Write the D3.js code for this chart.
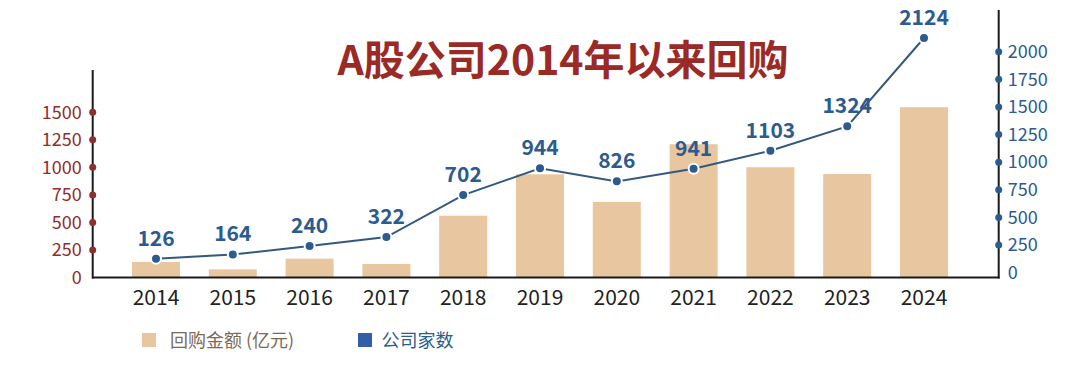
<!DOCTYPE html>
<html><head><meta charset="utf-8">
<script src="https://cdn.jsdelivr.net/npm/d3@7"></script>
<style>
html,body{margin:0;padding:0;background:#fff;}
svg{display:block;font-family:"Noto Sans CJK SC","Noto Sans",sans-serif;}
</style></head>
<body><svg id="c" width="1080" height="365"></svg>
<script>
const years = ["2014","2015","2016","2017","2018","2019","2020","2021","2022","2023","2024"];
const amounts = [141, 74, 171, 123, 561, 937, 686, 1210, 1001, 940, 1546];
const companies = [126, 164, 240, 322, 702, 944, 826, 941, 1103, 1324, 2124];
const leftTicks = [0, 250, 500, 750, 1000, 1250, 1500];
const rightTicks = [0, 250, 500, 750, 1000, 1250, 1500, 1750, 2000];
const titleText = "A股公司2014年以来回购";
const legendLabels = ["回购金额 (亿元)", "公司家数"];

const C = {bar:"#e8c69f", red:"#8f2f2b", title:"#9a2a26", blue:"#2c5b8f", line:"#34597f", axis:"#1a1a1a", legendBlue:"#2f5fa4", legendText:"#7d6a55"};
const FF = "'Noto Sans CJK SC','Noto Sans',sans-serif";

const svg = d3.select("#c");
const x = d3.scaleBand().domain(years).range([117.6, 962.4]).paddingInner(0.375).paddingOuter(0.1875);
const yL = d3.scaleLinear().domain([0, 1500]).range([277.5, 112.3]);
const yR = d3.scaleLinear().domain([0, 2000]).range([272.6, 51.7]);

// title
svg.append("text").attr("x", 563).attr("y", 75).attr("text-anchor","middle")
  .attr("font-size", 41).attr("font-weight", 700).attr("fill", C.title)
  .text(titleText);

// bars
svg.append("g").selectAll("rect").data(years).join("rect")
  .attr("x", d => x(d)).attr("width", x.bandwidth())
  .attr("y", (d,i) => yL(amounts[i])).attr("height", (d,i) => yL(0) - yL(amounts[i]))
  .attr("fill", C.bar);

// axis lines
const axisY = 277.5;
svg.append("line").attr("x1", 92.7).attr("x2", 92.7).attr("y1", 70).attr("y2", axisY+1).attr("stroke", C.axis).attr("stroke-width", 2);
svg.append("line").attr("x1", 998.7).attr("x2", 998.7).attr("y1", 10).attr("y2", axisY+1).attr("stroke", C.axis).attr("stroke-width", 2);

// left axis
const gL = svg.append("g").attr("transform","translate(92.7,0)")
  .call(d3.axisLeft(yL).tickValues(leftTicks).tickFormat(d3.format("d")).tickSize(0).tickPadding(11));
gL.select(".domain").remove();
gL.selectAll("text").attr("font-size", 18).attr("fill", C.red).attr("font-family", FF);
svg.append("g").selectAll("circle").data(leftTicks.filter(v => v > 0)).join("circle")
  .attr("cx", 92.7).attr("cy", d => yL(d)).attr("r", 3.5).attr("fill", C.red);

// right axis
const gR = svg.append("g").attr("transform","translate(998.7,0)")
  .call(d3.axisRight(yR).tickValues(rightTicks).tickFormat(d3.format("d")).tickSize(0).tickPadding(9));
gR.select(".domain").remove();
gR.selectAll("text").attr("font-size", 18).attr("fill", C.blue).attr("font-family", FF);
svg.append("g").selectAll("circle").data(rightTicks.filter(v => v > 0)).join("circle")
  .attr("cx", 998.7).attr("cy", d => yR(d)).attr("r", 3.5).attr("fill", C.blue);

// bottom axis
const gB = svg.append("g").attr("transform", `translate(0,${axisY})`)
  .call(d3.axisBottom(x).tickSize(0).tickPadding(13));
gB.select(".domain").remove();
gB.selectAll("text").attr("font-size", 21).attr("fill", "#222").attr("font-family", FF);
svg.append("line").attr("x1", 92).attr("x2", 999.5).attr("y1", axisY).attr("y2", axisY).attr("stroke", C.axis).attr("stroke-width", 2.2);

// line
const cx = d => x(d) + x.bandwidth()/2;
const line = d3.line().x((d,i) => cx(years[i])).y(d => yR(d));
svg.append("path").datum(companies).attr("d", line).attr("fill","none").attr("stroke", C.line).attr("stroke-width", 2);
svg.append("g").selectAll("circle").data(companies).join("circle")
  .attr("cx", (d,i) => cx(years[i])).attr("cy", d => yR(d)).attr("r", 5)
  .attr("fill", C.blue).attr("stroke", "#fff").attr("stroke-width", 2);
svg.append("g").selectAll("text").data(companies).join("text")
  .attr("x", (d,i) => cx(years[i])).attr("y", d => yR(d) - 13)
  .attr("text-anchor","middle").attr("font-size", 21).attr("font-weight", 700).attr("fill", C.blue)
  .text(d => d);

// legend
const lg = svg.append("g");
lg.append("rect").attr("x", 142).attr("y", 333).attr("width", 14).attr("height", 14).attr("fill", C.bar);
lg.append("text").attr("x", 170).attr("y", 346.5).attr("font-size", 18).attr("fill", C.legendText).text(legendLabels[0]);
lg.append("rect").attr("x", 358).attr("y", 333).attr("width", 14).attr("height", 14).attr("fill", C.legendBlue);
lg.append("text").attr("x", 381.5).attr("y", 346.5).attr("font-size", 18).attr("fill", C.blue).text(legendLabels[1]);
</script></body></html>
